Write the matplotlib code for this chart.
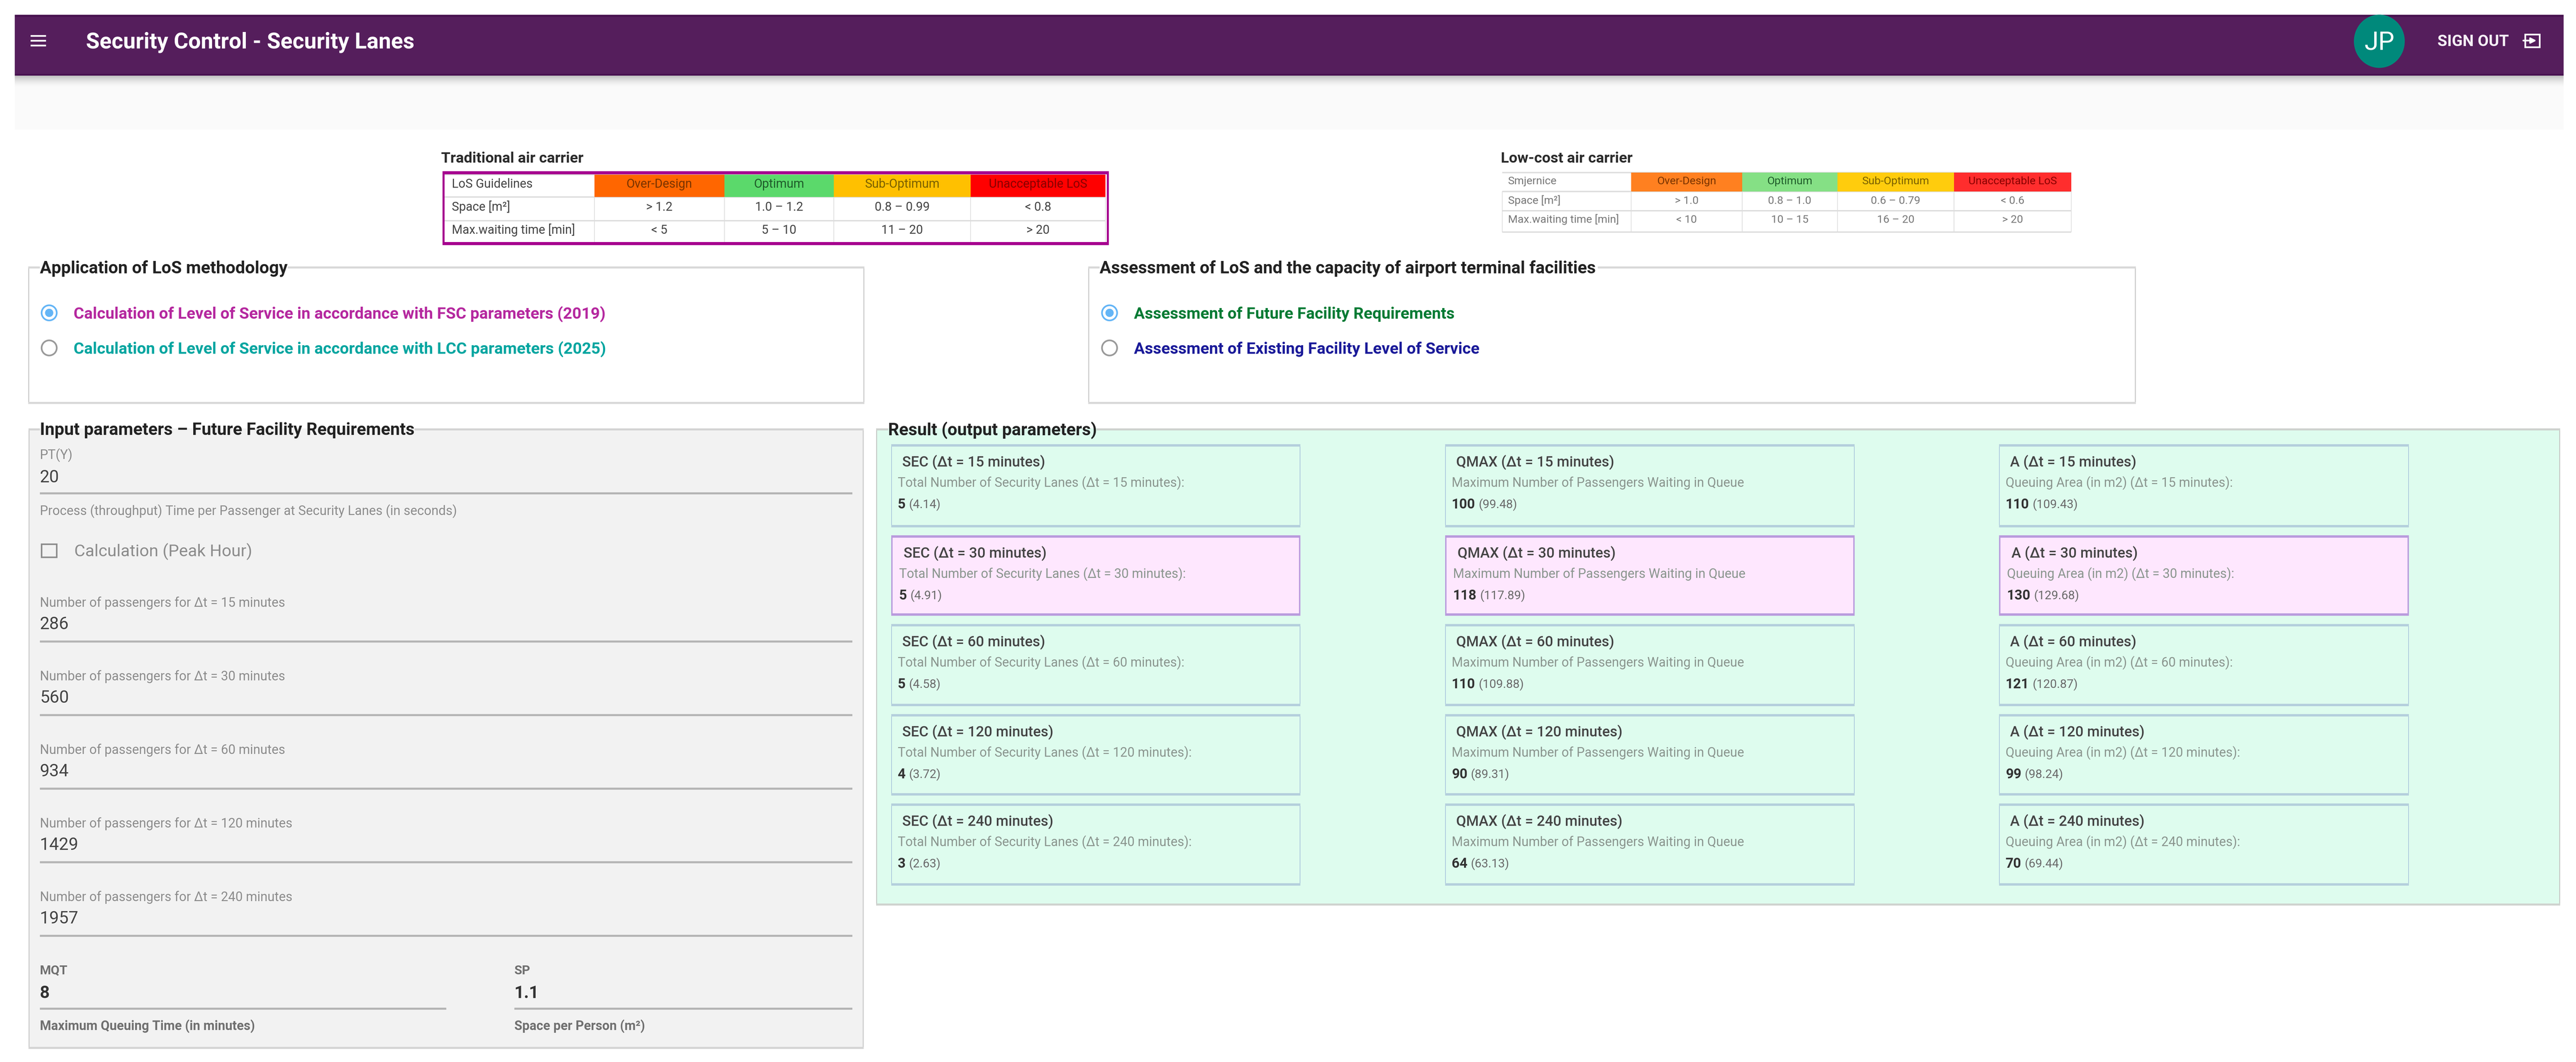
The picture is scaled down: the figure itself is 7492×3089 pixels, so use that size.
import matplotlib
matplotlib.use("Agg")
import matplotlib.pyplot as plt
from matplotlib.patches import Rectangle, Ellipse

W, H = 7492, 3089

# table contents
los_headers = ["Over-Design", "Optimum", "Sub-Optimum", "Unacceptable LoS"]
fsc_space = ["> 1.2", "1.0 – 1.2", "0.8 – 0.99", "< 0.8"]
fsc_wait = ["< 5", "5 – 10", "11 – 20", "> 20"]
lcc_space = ["> 1.0", "0.8 – 1.0", "0.6 – 0.79", "< 0.6"]
lcc_wait = ["< 10", "10 – 15", "16 – 20", "> 20"]
fsc_colors = ["#FF6600", "#5BD96B", "#FFC000", "#FF0000"]
lcc_colors = ["#FF8020", "#85E085", "#FFCC0D", "#FF2D2D"]

# input panel values
delta_t = [15, 30, 60, 120, 240]
passengers = [286, 560, 934, 1429, 1957]
pt_y = "20"
mqt = "8"
sp = "1.1"

# result cards
sec_round = [5, 5, 5, 4, 3]
sec_raw = [4.14, 4.91, 4.58, 3.72, 2.63]
qmax_round = [100, 118, 110, 90, 64]
qmax_raw = [99.48, 117.89, 109.88, 89.31, 63.13]
area_round = [110, 130, 121, 99, 70]
area_raw = [109.43, 129.68, 120.87, 98.24, 69.44]
selected_row = 1

plt.rcParams["font.family"] = ["Roboto", "DejaVu Sans"]

fig = plt.figure(figsize=(W / 100, H / 100), dpi=100)
ax = fig.add_axes([0, 0, 1, 1])
ax.set_xlim(0, W)
ax.set_ylim(H, 0)
ax.axis("off")


def rect(x0, y0, x1, y1, color, z=1):
    ax.add_patch(Rectangle((x0, y0), x1 - x0, y1 - y0, fc=color, ec="none", zorder=z))


# y is the middle of the capitals, size is the em in pixels
def txt(x, y, s, size, color="#333333", weight="normal", ha="left", z=5):
    return ax.text(x, y + 0.355 * size, s, fontsize=size * 0.72, color=color,
                   fontweight=weight, ha=ha, va="baseline", zorder=z)


def box(x0, y0, x1, y1, face, side, line, side_w=3, line_w=6, gap=None, z=2):
    rect(x0, y0, x1, y1, face, z)
    rect(x0, y0, x0 + side_w, y1, side, z)
    rect(x1 - side_w, y0, x1, y1, side, z)
    rect(x0, y1 - line_w, x1, y1, line, z)
    if gap:
        rect(x0, y0, gap[0], y0 + line_w, line, z)
        rect(gap[1], y0, x1, y0 + line_w, line, z)
    else:
        rect(x0, y0, x1, y0 + line_w, line, z)


# app bar
rect(43, 220, 7456, 377, "#FAFAFA")
shadow = ["#C4C4C4", "#CECECE", "#D8D8D8", "#E1E1E1", "#E9E9E9", "#EFEFEF", "#F4F4F4", "#F8F8F8"]
for i, c in enumerate(shadow):
    rect(43, 220 + i * 4, 7456, 224 + i * 4, c)
rect(43, 43, 7456, 220, "#551E5C", 2)
rect(43, 43, 7456, 49, "#47104F", 2)
rect(43, 215, 7456, 220, "#47104F", 2)
for y in [102, 116, 130]:
    rect(89, y, 134, y + 5, "white", 3)
txt(250, 118, "Security Control - Security Lanes", 64.5, "white", "bold")
ax.add_patch(Ellipse((6920, 120), 148, 155, fc="#00897B", ec="none", zorder=3))
txt(6920, 118, "JP", 74, "white", ha="center")
txt(7089, 118, "SIGN OUT", 46, "#F4EEF5", "bold")
ax.add_patch(Rectangle((7344, 100), 42, 37, fc="none", ec="white", lw=3.5, zorder=3))
ax.annotate("", xy=(7380, 118), xytext=(7336, 118), zorder=4,
            arrowprops=dict(arrowstyle="-|>", color="white", lw=3.5, mutation_scale=24))


def los_table(col_x, row_y, first_x, title_x, title, first_col, space, wait, colors,
              size, fg, text_y):
    txt(title_x, 458, title, 43.5, "#2B2B2B", "bold")
    rect(col_x[0], row_y[0], col_x[-1], row_y[-1], "white", 2)
    for i, c in enumerate(colors):
        rect(col_x[i + 1], row_y[0], col_x[i + 2], row_y[1], c, 3)
    for y in row_y:
        rect(col_x[0], y - 2, col_x[-1], y + 2, "#DDDDDD", 2)
    for x in col_x:
        rect(x - 1, row_y[1], x + 1, row_y[-1], "#DDDDDD", 2)
    rows = [[first_col[0]] + los_headers,
            [first_col[1]] + space,
            [first_col[2]] + wait]
    for r, row in enumerate(rows):
        txt(first_x, text_y[r], row[0], size, fg)
        for c, s in enumerate(row[1:]):
            color = fg
            if r == 0:
                color = {0: "#7A3300", 1: "#1F5C2A", 2: "#7A6000", 3: "#8A0000"}[c]
            txt((col_x[c + 1] + col_x[c + 2]) / 2, text_y[r], s, size, color, ha="center")


los_table([1292, 1729, 2107, 2425, 2823, 3215], [508, 573, 642, 708], 1314, 1283,
          "Traditional air carrier", ["LoS Guidelines", "Space [m²]", "Max.waiting time [min]"],
          fsc_space, fsc_wait, fsc_colors, 35.6, "#444444", [533, 600, 667])
# frame around the table in use
rect(1287, 498, 3225, 507, "#A6008F", 4)
rect(1287, 704, 3225, 713, "#A6008F", 4)
rect(1287, 498, 1293, 713, "#A6008F", 4)
rect(3219, 498, 3225, 713, "#A6008F", 4)

los_table([4369, 4744, 5067, 5344, 5683, 6024], [502, 557, 613, 675], 4386, 4365,
          "Low-cost air carrier", ["Smjernice", "Space [m²]", "Max.waiting time [min]"],
          lcc_space, lcc_wait, lcc_colors, 32, "#777777", [525, 582, 637])


def radio(x, y, on):
    col = "#64B5F6" if on else "#9A9A9A"
    ax.add_patch(Ellipse((x, y), 44, 44, fc="none", ec=col, lw=3.5, zorder=4))
    if on:
        ax.add_patch(Ellipse((x, y), 24, 24, fc=col, ec="none", zorder=4))


# option panels
box(82, 775, 2514, 1175, "white", "#CCCCCC", "#D8D8D8", gap=(116, 837))
txt(116, 777, "Application of LoS methodology", 50, "#222222", "bold")
radio(143, 910, True)
txt(214, 910, "Calculation of Level of Service in accordance with FSC parameters (2019)", 46.8, "#B5289F", "bold")
radio(143, 1012, False)
txt(214, 1012, "Calculation of Level of Service in accordance with LCC parameters (2025)", 46.8, "#00A5A0", "bold")

box(3165, 775, 6212, 1175, "white", "#CCCCCC", "#D8D8D8", gap=(3198, 4647))
txt(3198, 777, "Assessment of LoS and the capacity of airport terminal facilities", 50, "#222222", "bold")
radio(3227, 910, True)
txt(3298, 910, "Assessment of Future Facility Requirements", 46.8, "#007A33", "bold")
radio(3227, 1012, False)
txt(3298, 1012, "Assessment of Existing Facility Level of Service", 46.8, "#1A1A99", "bold")

# input panel
box(83, 1246, 2512, 3051, "#F2F2F2", "#CCCCCC", "#D4D4D4", gap=(116, 1206))
txt(116, 1247, "Input parameters – Future Facility Requirements", 50, "#222222", "bold")
txt(116, 1322, "PT(Y)", 38, "#8C8C8C")
txt(116, 1385, pt_y, 50, "#444444")
rect(116, 1432, 2479, 1438, "#B5B5B5", 3)
txt(116, 1485, "Process (throughput) Time per Passenger at Security Lanes (in seconds)", 37.6, "#8C8C8C")
ax.add_patch(Rectangle((121, 1583), 44, 38, fc="none", ec="#8C8C8C", lw=3.2, zorder=4))
txt(216, 1601, "Calculation (Peak Hour)", 49, "#8C8C8C")
for i, dt in enumerate(delta_t):
    line_y = 1866 + i * 214
    txt(116, line_y - 114, f"Number of passengers for Δt = {dt} minutes", 37.6, "#8C8C8C")
    txt(116, line_y - 54, str(passengers[i]), 50, "#444444")
    rect(116, line_y - 3, 2479, line_y + 3, "#B5B5B5", 3)
txt(116, 2821, "MQT", 37, "#707070", "bold")
txt(116, 2885, mqt, 50, "#333333", "bold")
rect(116, 2931, 1298, 2937, "#B5B5B5", 3)
txt(116, 2983, "Maximum Queuing Time (in minutes)", 37.5, "#707070", "bold")
txt(1496, 2821, "SP", 37, "#707070", "bold")
txt(1496, 2885, sp, 50, "#333333", "bold")
rect(1496, 2931, 2479, 2937, "#B5B5B5", 3)
txt(1496, 2983, "Space per Person (m²)", 37.5, "#707070", "bold")

# result panel
box(2548, 1246, 7446, 2634, "#DEFCEE", "#C8CCC8", "#CFD3CF", gap=(2583, 3189))
txt(2583, 1248, "Result (output parameters)", 50, "#222222", "bold")

card_cols = [(2592, 3782), (4203, 5394), (5814, 7006)]
card_rows = [(1292, 1534), (1557, 1791), (1815, 2054), (2077, 2314), (2337, 2576)]
card_text = [("SEC", "Total Number of Security Lanes (Δt = {} minutes):", sec_round, sec_raw),
             ("QMAX", "Maximum Number of Passengers Waiting in Queue", qmax_round, qmax_raw),
             ("A", "Queuing Area (in m2) (Δt = {} minutes):", area_round, area_raw)]
fig.canvas.draw()
renderer = fig.canvas.get_renderer()
for (x0, x1), (name, sub, rounded, raw) in zip(card_cols, card_text):
    for r, (y0, y1) in enumerate(card_rows):
        hot = r == selected_row
        if hot:
            box(x0, y0, x1, y1, "#FEE7FE", "#B99BDD", "#B99BDD", side_w=4, line_w=7, z=3)
        else:
            box(x0, y0, x1, y1, "#DEFCEE", "#A8C4DC", "#B4CFDC", side_w=2, line_w=7, z=3)
        dx = 4 if hot else 0
        txt(x0 + 32 + dx, y0 + 49, f"{name} (Δt = {delta_t[r]} minutes)", 42, "#444444", "medium")
        txt(x0 + 19 + dx, y0 + 111, sub.format(delta_t[r]), 37.5, "#8A958E")
        t = txt(x0 + 19 + dx, y0 + 173, str(rounded[r]), 40, "#333333", "bold")
        end = t.get_window_extent(renderer).x1
        txt(end + 10, y0 + 173, f"({raw[r]})", 35, "#6A6A6A")

fig.savefig("out.png", dpi=100, facecolor="white")
